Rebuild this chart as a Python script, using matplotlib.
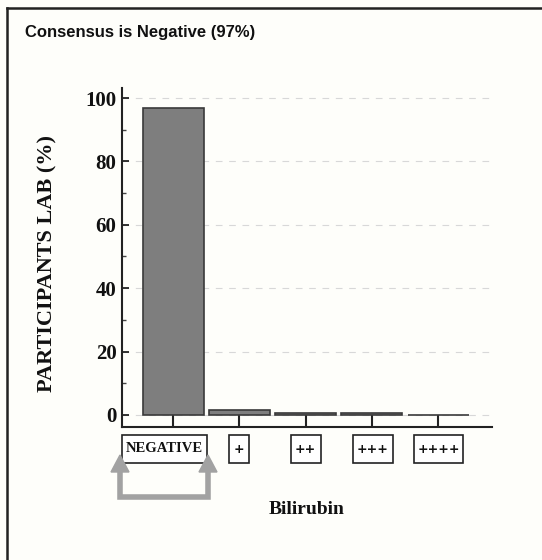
import numpy as np
import matplotlib
matplotlib.use("Agg")
import matplotlib.pyplot as plt
from matplotlib.lines import Line2D
from matplotlib.patches import FancyArrow, Rectangle

categories = ["NEGATIVE", "+", "++", "+++", "++++"]
percent = [97, 1.5, 0.5, 0.5, 0]
title = "Consensus is Negative (97%)"

# label boxes: centre offset (in category units) and width (px)
box_offset = [-0.13, 0, 0, 0.01, 0.01]
box_width = [85, 20, 30, 40, 49]

W, H = 542, 560
fig = plt.figure(figsize=(W / 100, H / 100), dpi=100, facecolor="#fefefa")

def fx(px):
    return px / W

def fy(py):
    return 1 - py / H

# outer frame (left and top edges visible)
fig.add_artist(Line2D([fx(7), fx(7)], [fy(560), fy(8)], color="#222222", lw=1.8))
fig.add_artist(Line2D([fx(7), fx(542)], [fy(8), fy(8)], color="#222222", lw=1.8))

fig.text(fx(25), fy(32), title, family="Liberation Sans", fontweight="bold",
         fontsize=12, va="center", ha="left", color="#111111")

ax = fig.add_axes([fx(122), fy(427), fx(492) - fx(122), fy(88.5) - fy(427)])
ax.set_facecolor("none")

x = np.arange(len(categories))
ax.bar(x, percent, width=0.92, color="#7e7e7e", edgecolor="#3a3a3a", linewidth=1.2, zorder=3)

ax.set_xlim(-0.77, 4.81)
ax.set_ylim(-3.8, 103)

for s in ["top", "right"]:
    ax.spines[s].set_visible(False)
for s in ["left", "bottom"]:
    ax.spines[s].set_linewidth(1.5)
    ax.spines[s].set_color("#222222")

ax.set_yticks(np.arange(0, 101, 20))
ax.set_yticks(np.arange(10, 100, 20), minor=True)
ax.tick_params(axis="y", which="major", direction="in", length=5, width=1.2,
               pad=4, colors="#111111")
ax.tick_params(axis="y", which="minor", direction="in", length=3, width=1.0, color="#444444")
for lab in ax.get_yticklabels():
    lab.set_family("Liberation Serif")
    lab.set_fontweight("bold")
    lab.set_fontsize(15)

ax.set_xticks(x)
ax.set_xticklabels([])
ax.tick_params(axis="x", direction="in", length=8.5, width=1.5, colors="#222222")

ax.yaxis.grid(True, color="#d8d8d8", linestyle=(0, (6, 6)), linewidth=0.8, zorder=0)

# boxed category labels
for xi, lab, off, bw in zip(x, categories, box_offset, box_width):
    cx = ax.transData.transform((xi + off, 0))[0]
    fig.add_artist(Rectangle((fx(cx - bw / 2), fy(463)), fx(bw), fy(435) - fy(463),
                             facecolor="white", edgecolor="#222222", linewidth=1.2,
                             transform=fig.transFigure, zorder=1))
    if lab == "NEGATIVE":
        fig.text(fx(cx), fy(449), lab, ha="center", va="center",
                 family="Liberation Serif", fontweight="bold", fontsize=10.5,
                 color="#111111", zorder=2)
    else:
        fig.text(fx(cx), fy(449.5), lab, ha="center", va="center",
                 family="DejaVu Sans", fontweight="bold", fontsize=9,
                 color="#111111", zorder=2)

# gray U-shaped arrow under NEGATIVE
gray = "#a2a2a2"
fig.add_artist(Line2D([fx(120), fx(120), fx(208), fx(208)],
                      [fy(470), fy(497), fy(497), fy(470)],
                      color=gray, lw=4, solid_joinstyle="miter", zorder=3))
for ax_px in (120, 208):
    fig.add_artist(FancyArrow(fx(ax_px), fy(472), 0, fy(455) - fy(472),
                              width=0.0, head_width=fx(18), head_length=fy(455) - fy(472),
                              length_includes_head=True, color=gray,
                              transform=fig.transFigure, zorder=3))

fig.text(fx(47), fy(263), "PARTICIPANTS LAB (%)", family="Liberation Serif",
         fontweight="bold", fontsize=16, rotation=90, ha="center", va="center",
         color="#111111")
fig.text(fx(307), fy(510), "Bilirubin", family="Liberation Serif", fontweight="bold",
         fontsize=14, ha="center", va="center", color="#111111")

fig.savefig("out.png", dpi=100, facecolor=fig.get_facecolor())
